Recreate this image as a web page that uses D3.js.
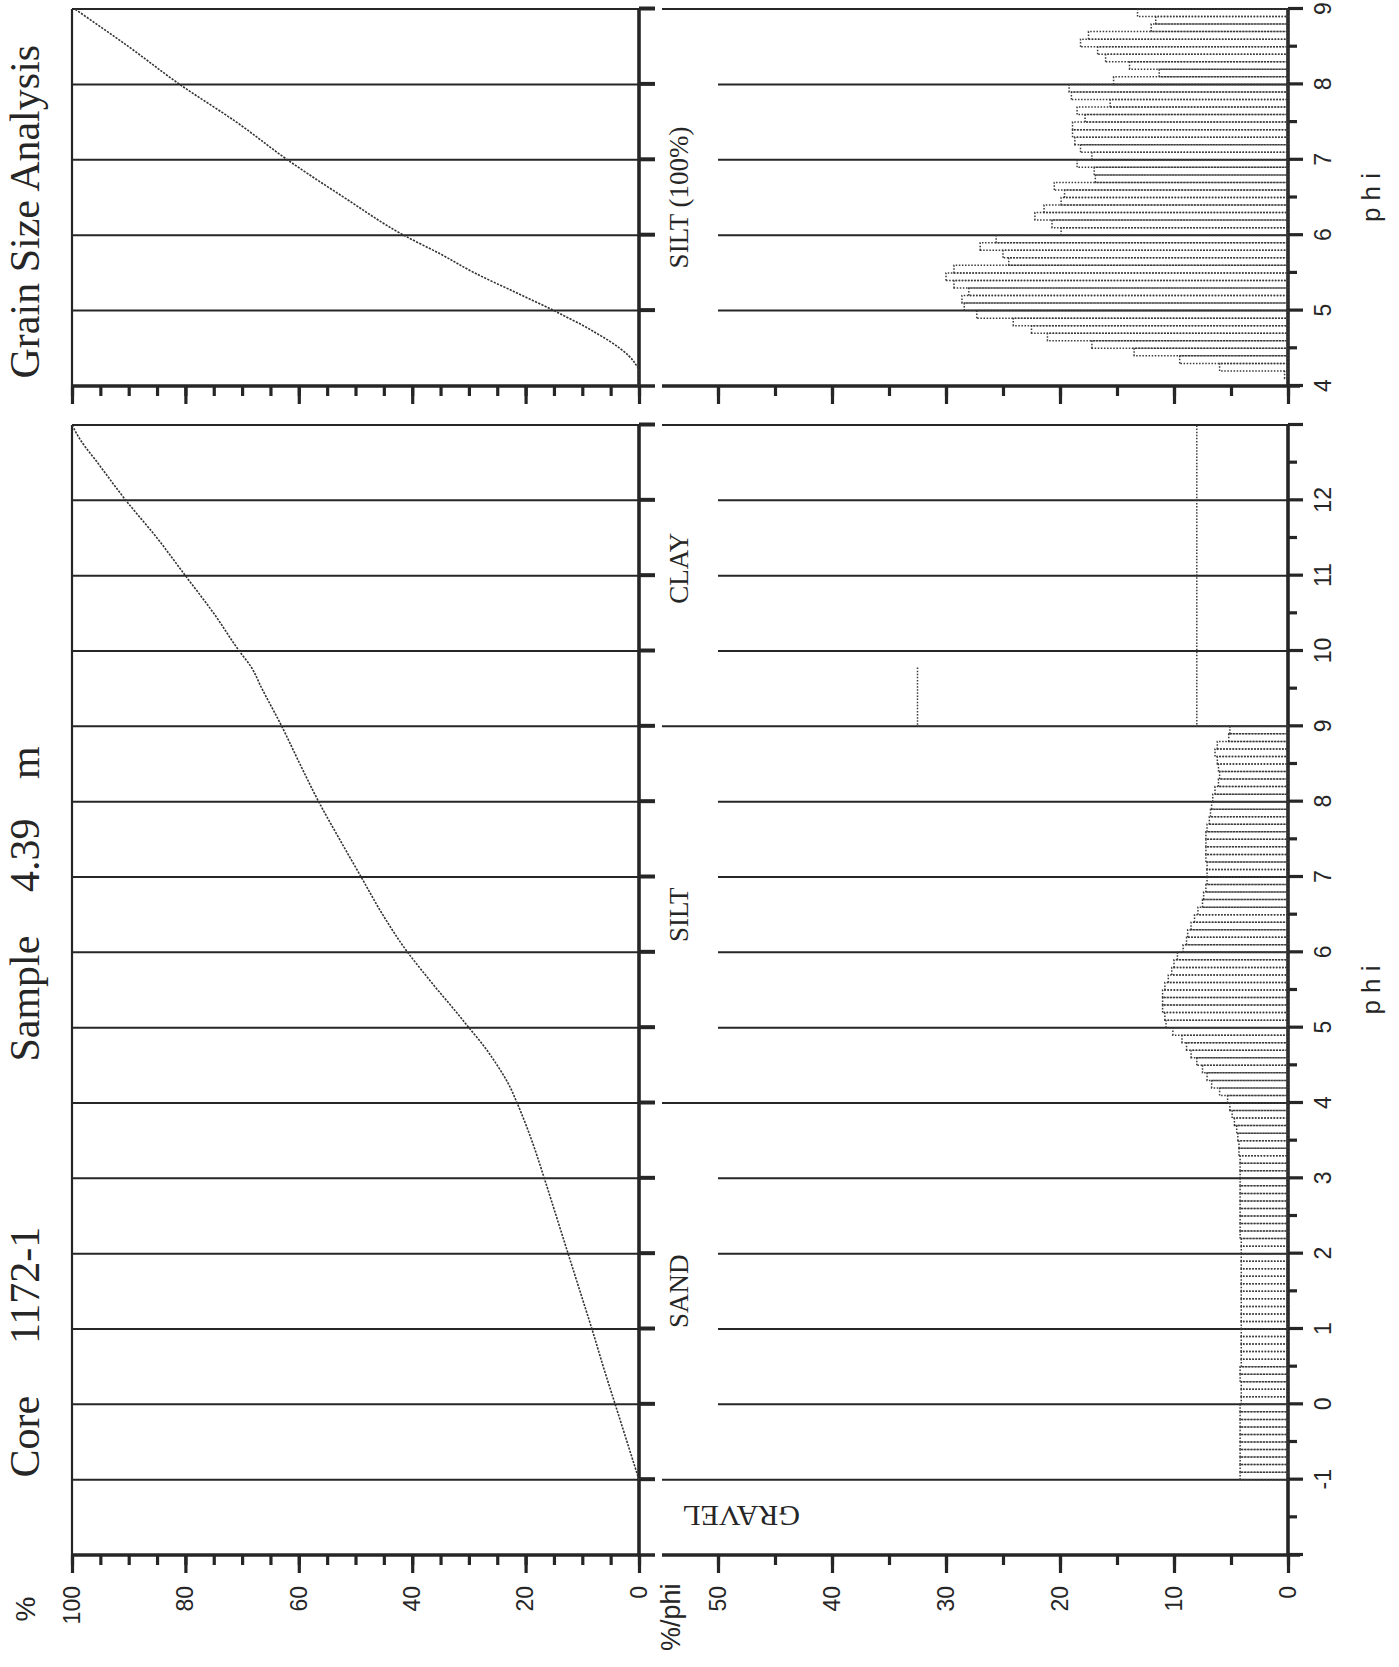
<!DOCTYPE html>
<html><head><meta charset="utf-8">
<script src="https://cdn.jsdelivr.net/npm/d3@7"></script>
<style>body{margin:0;background:#fff}svg{display:block}</style>
</head><body>
<svg id="c" width="1399" height="1667"></svg>
<script>
// ---------------- DATA ----------------
const titleWords = [
  {text: "Core", at: -0.97}, {text: "1172-1", at: 0.8}, {text: "Sample", at: 4.55},
  {text: "4.39", at: 6.8}, {text: "m", at: 8.3}
];
const subtitle = "Grain Size Analysis";
const classLabels = [
  {text: "SAND", phi: 1.5}, {text: "SILT", phi: 6.5}, {text: "CLAY", phi: 11.1}
];
const gravelLabel = "GRAVEL";
const siltTopLabel = "SILT (100%)";
const phiLabelsMain = [-1,0,1,2,3,4,5,6,7,8,9,10,11,12];
const phiLabelsTop = [4,5,6,7,8,9];
const pctTicks = [0,20,40,60,80,100];
const freqTicks = [0,10,20,30,40,50];
const classBoundaries = [-1,4,9,13];

const binWidth = 0.1;
const mainFirstBin = -1.0;
// %/phi, whole sample, 0.1 phi bins from -1.0 to 9.0
const mainFreq = [
  4.2,4.2,4.2,4.2,4.2,4.2,4.2,4.2,4.2,4.2,
  4.1,4.1,4.1,4.2,4.2,4.1,4.1,4.1,4.1,4.1,
  4.1,4.1,4.1,4.1,4.1,4.1,4.1,4.1,4.1,4.1,
  4.1,4.1,4.2,4.2,4.2,4.2,4.2,4.2,4.2,4.2,
  4.2,4.2,4.2,4.3,4.3,4.4,4.5,4.7,4.9,5.1,
  5.3,6.0,6.7,7.1,7.5,8.0,8.5,8.9,9.3,10.1,
  10.7,10.8,11.0,11.0,11.0,10.8,10.5,10.2,10.0,9.7,
  9.2,8.9,8.8,8.5,8.2,7.9,7.5,7.4,7.2,7.1,
  7.1,7.1,7.2,7.2,7.2,7.2,7.1,6.9,6.8,6.7,
  6.6,6.4,6.1,6.0,6.1,6.2,6.4,6.2,5.2,5.1
];
// clay, drawn as open steps
const clayFrom = [9, 9];
const clayTo = [9.8, 13];
const clayValue = [32.5, 8.0];

// %/phi, silt fraction normalised to 100 %, 0.1 phi bins from 4.0 to 9.0
const siltFirstBin = 4.0;
const siltFreq = [
  0.0,0.3,6.0,9.5,13.5,17.2,21.1,22.5,24.1,27.3,
  28.4,28.6,28.0,29.3,30.0,29.3,24.5,25.0,27.0,25.6,
  19.9,20.7,22.2,21.4,19.9,19.6,20.5,16.9,17.0,18.5,
  17.2,18.2,18.7,18.9,18.9,17.8,18.5,15.6,19.0,19.2,
  15.3,11.3,13.9,16.0,16.7,18.2,17.5,12.0,11.6,13.2
];

// cumulative curves
const cumMainPhi = [-1,-0.5,0,0.5,1,1.5,2,2.5,3,3.5,4,4.25,4.5,4.75,5,5.25,5.5,5.75,6,6.5,7,7.5,8,8.5,9,9.5,9.8,10,10.5,11,11.5,12,12.5,12.8,13];
const cumMainPct = [0,2.1,4.2,6.3,8.3,10.4,12.5,14.6,16.7,18.9,21.5,23,25,27.3,30,32.7,35.5,38.2,40.8,45.2,49,52.8,56.5,59.8,63,66.5,68.5,70.5,75,80,85,90.5,95.5,98.5,100];
const cumSiltPhi = [4,4.2,4.3,4.4,4.5,4.6,4.7,4.8,4.9,5,5.25,5.5,5.75,6,6.5,7,7.5,8,8.5,9];
const cumSiltPct = [0,0,0.7,1.8,3.4,5.3,7.5,9.8,12.4,15,22,29,35,41.5,52,62,71,81,90,99.5];

// ---------------- LAYOUT ----------------
const W = 1399, H = 1667;
const ink = "#262626";
const svg = d3.select("#c");
svg.append("rect").attr("width", W).attr("height", H).attr("fill", "#fff");
// the whole figure is a landscape page turned a quarter turn
const g = svg.append("g").attr("transform", `translate(0,${H}) rotate(-90)`);

const phiM = d3.scaleLinear().domain([-2, 13]).range([112, 1242]);
const phiT = d3.scaleLinear().domain([4, 9]).range([1281, 1658]);
const pct = d3.scaleLinear().domain([0, 100]).range([639, 72]);
const frq = d3.scaleLinear().domain([0, 50]).range([1288, 718]);
const FREQ_START = 662, CUM_END = 655;

function ln(x1, y1, x2, y2, w, col) {
  g.append("line").attr("x1", x1).attr("y1", y1).attr("x2", x2).attr("y2", y2)
    .attr("stroke", col || ink).attr("stroke-width", w);
}
const sans = "'Liberation Sans', Arial, Helvetica, sans-serif";
const serif = "'Liberation Serif', 'Times New Roman', Times, serif";

function styleAxis(a, w) {
  a.selectAll(".domain").remove();
  a.selectAll("line").attr("stroke", ink).attr("stroke-width", w);
  a.selectAll("text").attr("fill", ink).attr("font-family", sans).attr("font-size", 23);
}

function valueAxis(x, scale, majors, minorStep, withLabels, from, to) {
  const dom = scale.domain();
  const minors = d3.range(dom[0], dom[1] + 0.001, minorStep);
  const a = g.append("g").attr("transform", `translate(${x},0)`);
  a.append("g").call(d3.axisLeft(scale).tickValues(minors).tickSize(10).tickFormat(""));
  a.append("g").call(d3.axisLeft(scale).tickValues(majors).tickSize(18).tickPadding(13)
    .tickFormat(withLabels ? (d => String(d)) : ""));
  styleAxis(a, 3.2);
  ln(x, from, x, to, 3.6);
}

function phiAxis(y, scale, majors, labels) {
  const dom = scale.domain();
  const minors = d3.range(dom[0] + 0.5, dom[1], 1);
  const a = g.append("g").attr("transform", `translate(0,${y})`);
  a.append("g").call(d3.axisBottom(scale).tickValues(minors).tickSize(9).tickFormat(""));
  a.append("g").call(d3.axisBottom(scale).tickValues(majors).tickSize(15).tickPadding(12)
    .tickFormat(d => labels.includes(d) ? String(d) : ""));
  styleAxis(a, 3.2);
  ln(scale(dom[0]), y, scale(dom[1]), y, 3.6);
}

function panelSet(phi, gridCum, gridFreq, labels) {
  const dom = phi.domain();
  const ints = d3.range(dom[0], dom[1] + 0.001, 1);
  // cumulative panel frame
  ln(phi(dom[0]), pct(100), phi(dom[1]), pct(100), 2.2);
  gridCum.forEach(p => ln(phi(p), pct(100), phi(p), pct(0), 2));
  // thick 0 % line with stub ticks
  const a = g.append("g").attr("transform", `translate(0,${pct(0)})`);
  a.call(d3.axisBottom(phi).tickValues(gridCum).tickSize(CUM_END - pct(0)).tickFormat(""));
  styleAxis(a, 4);
  ln(phi(dom[0]), pct(0), phi(dom[1]), pct(0), 3.6);
  // frequency panel grid
  gridFreq.forEach(p => {
    const start = classBoundaries.includes(p) ? FREQ_START : frq(50);
    ln(phi(p), start, phi(p), frq(0), 2);
  });
  phiAxis(frq(0), phi, ints, labels);
}

// main panels
panelSet(phiM, d3.range(-1, 13.001, 1), d3.range(-1, 13.001, 1), phiLabelsMain);
valueAxis(phiM(-2), pct, pctTicks, 5, true, pct(100), CUM_END);
valueAxis(phiM(-2), frq, freqTicks, 5, true, FREQ_START, 1300);

// silt-only panels
panelSet(phiT, d3.range(5, 9.001, 1), d3.range(5, 9.001, 1), phiLabelsTop);
valueAxis(phiT(4), pct, pctTicks, 5, false, pct(100), CUM_END);
valueAxis(phiT(4), frq, freqTicks, 5, false, FREQ_START, 1300);

// histograms
function bars(phi, first, values) {
  g.append("g").selectAll("rect").data(values).join("rect")
    .attr("x", (d, i) => phi(first + i * binWidth))
    .attr("width", (d, i) => phi(first + (i + 1) * binWidth) - phi(first + i * binWidth))
    .attr("y", d => frq(d))
    .attr("height", d => frq(0) - frq(d))
    .attr("fill", "none").attr("stroke", "#3a3a3a")
    .attr("stroke-width", 1.5).attr("stroke-dasharray", "1.5,1.6");
}
bars(phiM, mainFirstBin, mainFreq);
bars(phiT, siltFirstBin, siltFreq);
g.append("g").selectAll("path").data(clayValue).join("path")
  .attr("d", (d, i) => `M${phiM(clayFrom[i])},${frq(0)}L${phiM(clayFrom[i])},${frq(d)}L${phiM(clayTo[i])},${frq(d)}`)
  .attr("fill", "none").attr("stroke", "#3a3a3a").attr("stroke-width", 1.5).attr("stroke-dasharray", "1.5,1.6");

// cumulative curves
function curve(phi, xs, ys) {
  const line = d3.line().x(d => phi(d[0])).y(d => pct(d[1])).curve(d3.curveMonotoneX);
  g.append("path").attr("d", line(xs.map((x, i) => [x, ys[i]])))
    .attr("fill", "none").attr("stroke", "#333").attr("stroke-width", 1.6)
    .attr("stroke-dasharray", "2.2,1.3");
}
curve(phiM, cumMainPhi, cumMainPct);
curve(phiT, cumSiltPhi, cumSiltPct);

// texts
function txt(x, y, s, size, fam, anchor) {
  return g.append("text").attr("x", x).attr("y", y).text(s).attr("font-size", size)
    .attr("font-family", fam).attr("fill", ink).attr("text-anchor", anchor || "start");
}
titleWords.forEach(w => txt(phiM(w.at), 39, w.text, 42, serif));
txt(phiT(4.1), 39, subtitle, 42, serif);
txt(58, 35, "%", 28, sans, "middle");
txt(16, 680, "%/phi", 27, sans);
txt(phiM(5.5), 1380, "p h i", 26, sans, "middle");
txt(phiT(6.5), 1380, "p h i", 26, sans, "middle");
classLabels.forEach(c => txt(phiM(c.phi), 688, c.text, 27, serif, "middle"));
txt(phiT(6.5), 688, siltTopLabel, 27, serif, "middle");
g.append("text").attr("transform", `translate(${phiM(-1.35)},741) rotate(-90)`)
  .text(gravelLabel).attr("font-size", 30).attr("font-family", serif).attr("fill", ink)
  .attr("text-anchor", "middle");
</script>
</body></html>
